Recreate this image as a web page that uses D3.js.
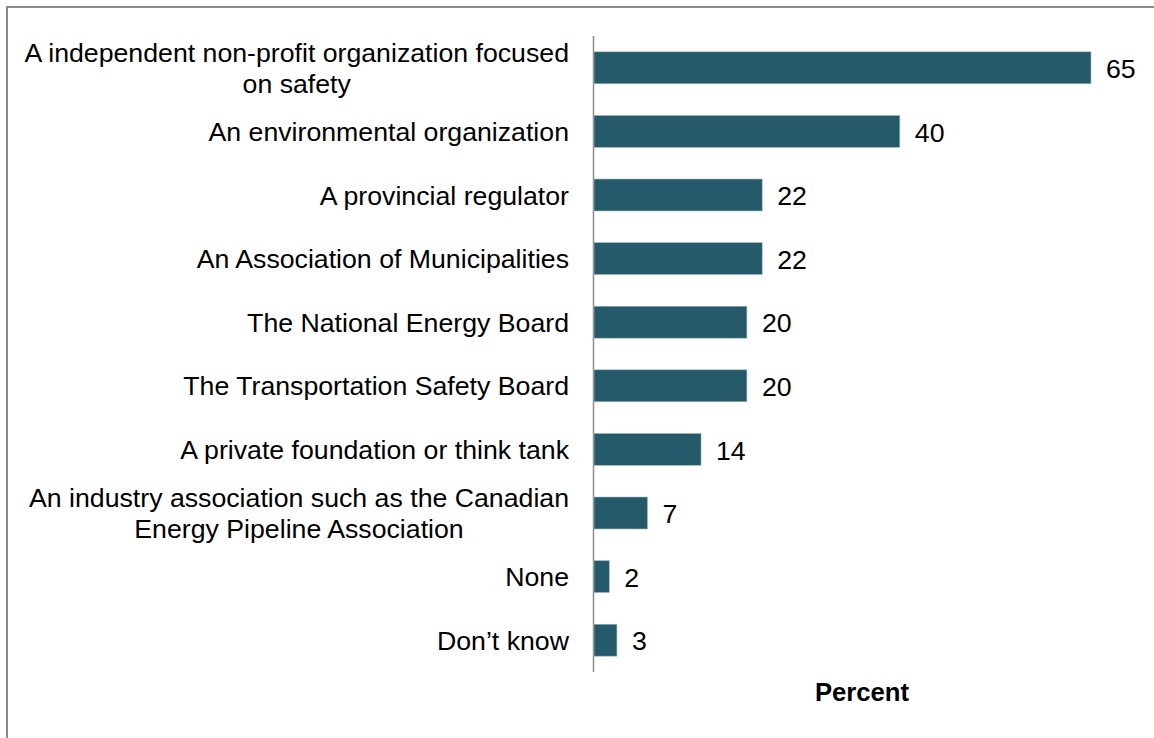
<!DOCTYPE html>
<html>
<head>
<meta charset="utf-8">
<script src="https://cdn.jsdelivr.net/npm/d3@7/dist/d3.min.js"></script>
<style>
  html, body { margin: 0; padding: 0; background: #fff; }
  svg { display: block; font-family: "Liberation Sans", Arial, sans-serif; }
</style>
</head>
<body>
<svg id="chart" width="1154" height="738"></svg>
<script>
// Survey responses: organizations trusted for pipeline safety information
const categories = [
  ["A independent non-profit organization focused", "on safety"],
  ["An environmental organization"],
  ["A provincial regulator"],
  ["An Association of Municipalities"],
  ["The National Energy Board"],
  ["The Transportation Safety Board"],
  ["A private foundation or think tank"],
  ["An industry association such as the Canadian", "Energy Pipeline Association"],
  ["None"],
  ["Don\u2019t know"]
];
const percentValues = [65, 40, 22, 22, 20, 20, 14, 7, 2, 3];
const axisTitle = "Percent";

const svg = d3.select("#chart");

// Outer frame (runs off the right and bottom edges)
svg.append("rect")
  .attr("x", 7).attr("y", 7)
  .attr("width", 1160).attr("height", 760)
  .attr("fill", "none")
  .attr("stroke", "#898989")
  .attr("stroke-width", 2);

const x0 = 594;
const x = d3.scaleLinear().domain([0, 65]).range([x0, 1091]);
const y = d3.scaleBand()
  .domain(d3.range(categories.length))
  .range([36, 672])
  .paddingInner(0.497)
  .paddingOuter(0.2485);

const labelSize = 26.7;

// Category axis line
svg.append("line")
  .attr("x1", x0 - 0.5).attr("x2", x0 - 0.5)
  .attr("y1", 36).attr("y2", 672)
  .attr("stroke", "#8c8c8c")
  .attr("stroke-width", 1.5);

const rows = svg.selectAll("g.row")
  .data(percentValues.map((v, i) => ({ v, i, label: categories[i] })))
  .join("g").attr("class", "row");

rows.append("rect")
  .attr("x", x0)
  .attr("y", d => y(d.i))
  .attr("width", d => x(d.v) - x0)
  .attr("height", y.bandwidth())
  .attr("fill", "#245a69")
  .attr("stroke", "#a9bfc6")
  .attr("stroke-width", 0.6);

rows.append("text")
  .attr("x", d => x(d.v) + 15)
  .attr("y", d => y(d.i) + y.bandwidth() / 2)
  .attr("dy", "0.38em")
  .attr("font-size", labelSize)
  .attr("fill", "#000")
  .text(d => d.v);

const lineH = 31;
rows.append("text")
  .attr("font-size", labelSize)
  .attr("fill", "#000")
  .each(function (d) {
    const t = d3.select(this);
    const n = d.label.length;
    const cy = y(d.i) + y.bandwidth() / 2;
    d.label.forEach((s, k) => {
      t.append("tspan")
        .attr("x", 569)
        .attr("y", cy + (k - (n - 1) / 2) * lineH)
        .attr("dy", "0.36em")
        .attr("text-anchor", "end")
        .text(s);
    });
    // A wrapped second line sits centred under the first
    if (n > 1) {
      const spans = t.selectAll("tspan").nodes();
      const w0 = spans[0].getComputedTextLength();
      d3.select(spans[1])
        .attr("x", 569 - w0 / 2)
        .attr("text-anchor", "middle");
    }
  });

svg.append("text")
  .attr("x", 862).attr("y", 701)
  .attr("text-anchor", "middle")
  .attr("font-size", 25.7)
  .attr("font-weight", "bold")
  .attr("fill", "#000")
  .text(axisTitle);
</script>
</body>
</html>
